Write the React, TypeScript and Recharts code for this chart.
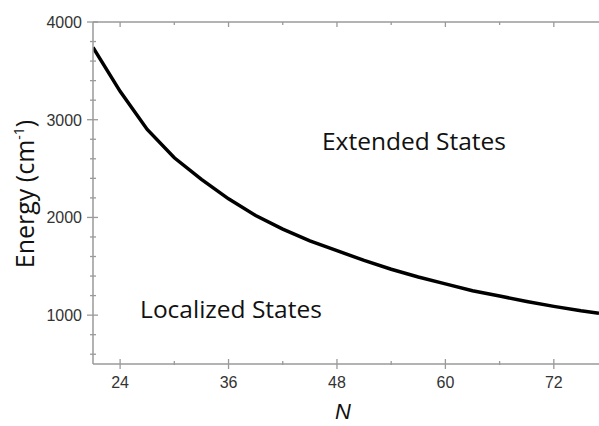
import { LineChart, Line, XAxis, YAxis } from 'recharts'

// N values and energy (cm^-1)
const nValues = [21, 24, 27, 30, 33, 36, 39, 42, 45, 48, 51, 54, 57, 60, 63, 66, 69, 72, 75, 77]
const energy = [3740, 3290, 2900, 2610, 2390, 2190, 2020, 1880, 1760, 1660, 1560, 1470, 1390, 1320, 1250, 1195, 1140, 1090, 1045, 1020]

const xTicks = [24, 30, 36, 42, 48, 54, 60, 66, 72]
const xMajor = [24, 36, 48, 60, 72]
const yTicks = [600, 800, 1000, 1200, 1400, 1600, 1800, 2000, 2200, 2400, 2600, 2800, 3000, 3200, 3400, 3600, 3800, 4000]
const yMajor = [1000, 2000, 3000, 4000]

const data = nValues.map((n, i) => ({ n, e: energy[i] }))

const AXIS = '#9a9a9a'
const TICK_FONT = '"Liberation Sans", Arial, sans-serif'
const TEXT_FONT = '"Open Sans", "Noto Sans", sans-serif'

const BottomTick = ({ x, y, payload }: any) => {
  const major = xMajor.includes(payload.value)
  return (
    <g>
      <line x1={x} x2={x} y1={major ? y - 5 : y - 3} y2={major ? y + 5 : y + 1} stroke={AXIS} strokeWidth={1.3} />
      {major && (
        <text x={x} y={y + 24} textAnchor="middle" fontSize={16} fill="#333" fontFamily={TICK_FONT}>
          {payload.value}
        </text>
      )}
    </g>
  )
}

const TopTick = ({ x, y, payload }: any) => {
  const major = xMajor.includes(payload.value)
  return <line x1={x} x2={x} y1={y} y2={major ? y + 5 : y + 3} stroke={AXIS} strokeWidth={1.3} />
}

const LeftTick = ({ x, y, payload }: any) => {
  const major = yMajor.includes(payload.value)
  return (
    <g>
      <line x1={major ? x - 6 : x - 3} x2={major ? x + 5 : x + 3} y1={y} y2={y} stroke={AXIS} strokeWidth={1.3} />
      {major && (
        <text x={x - 11} y={y + 6} textAnchor="end" fontSize={16} fill="#333" fontFamily={TICK_FONT}>
          {payload.value}
        </text>
      )}
    </g>
  )
}

export default function App() {
  return (
    <div style={{ position: 'absolute', left: 0, top: 0, background: '#fff' }}>
      <LineChart width={599} height={426} data={data} margin={{ top: 0, right: 0, left: 0, bottom: 0 }}>
        <XAxis
          dataKey="n"
          type="number"
          domain={[21, 77]}
          ticks={xTicks}
          interval={0}
          height={62}
          tickSize={0}
          tickMargin={0}
          tickLine={false}
          axisLine={{ stroke: AXIS, strokeWidth: 1.5 }}
          tick={<BottomTick />}
          allowDataOverflow
        />
        <XAxis
          xAxisId="top"
          orientation="top"
          dataKey="n"
          type="number"
          domain={[21, 77]}
          ticks={xTicks}
          interval={0}
          height={22}
          tickSize={0}
          tickMargin={0}
          tickLine={false}
          axisLine={{ stroke: AXIS, strokeWidth: 1.5 }}
          tick={<TopTick />}
          allowDataOverflow
        />
        <YAxis
          type="number"
          domain={[500, 4000]}
          ticks={yTicks}
          interval={0}
          width={93}
          tickSize={0}
          tickMargin={0}
          tickLine={false}
          axisLine={{ stroke: AXIS, strokeWidth: 1.5 }}
          tick={<LeftTick />}
          allowDataOverflow
        />
        <Line
          type="linear"
          dataKey="e"
          stroke="#000"
          strokeWidth={3.5}
          dot={false}
          isAnimationActive={false}
        />
        <text x={414} y={150} textAnchor="middle" fontSize={24.5} fill="#111" fontFamily={TEXT_FONT}>
          Extended States
        </text>
        <text x={231} y={318} textAnchor="middle" fontSize={24.5} fill="#111" fontFamily={TEXT_FONT}>
          Localized States
        </text>
        <text x={343} y={419} textAnchor="middle" fontSize={22} fontStyle="italic" fill="#111" fontFamily={TICK_FONT}>
          N
        </text>
        <text
          x={0}
          y={0}
          transform="translate(34 194) rotate(-90)"
          textAnchor="middle"
          fontSize={25}
          fill="#111"
          fontFamily={TEXT_FONT}
        >
          Energy (cm
          <tspan fontSize={14} dy={-10}>-1</tspan>
          <tspan dy={10}>)</tspan>
        </text>
      </LineChart>
    </div>
  )
}
